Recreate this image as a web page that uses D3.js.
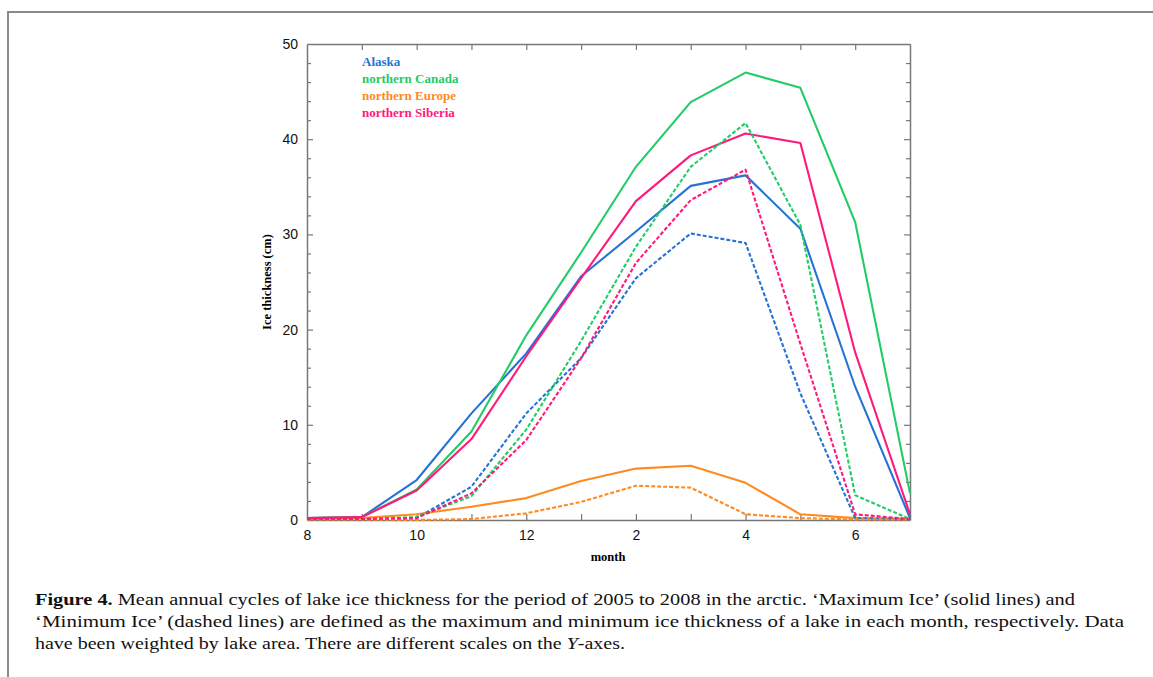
<!DOCTYPE html>
<html><head><meta charset="utf-8">
<script src="https://cdn.jsdelivr.net/npm/d3@7"></script>
<style>
body{margin:0;background:#fff;}
svg{display:block;}
</style></head>
<body>
<svg id="chart" width="1153" height="677"></svg>
<script>
const monthLabels = ["8","9","10","11","12","1","2","3","4","5","6","7"];
const yTicks = [0,10,20,30,40,50];
const regions = ["Alaska","northern Canada","northern Europe","northern Siberia"];
const colors = ["#2473d6","#22cc66","#ff8a22","#ff1a7a"];

const alaskaMax  = [0.2, 0.3, 4.2, 11.2, 17.5, 25.6, 30.3, 35.1, 36.2, 30.6, 14.0, 0.2];
const alaskaMin  = [0.1, 0.1, 0.2, 3.5, 11.2, 17.0, 25.4, 30.1, 29.1, 13.3, 0.2, 0.1];
const canadaMax  = [0.2, 0.3, 3.2, 9.3, 19.4, 28.1, 37.1, 43.9, 47.0, 45.4, 31.3, 2.8];
const canadaMin  = [0.1, 0.1, 0.3, 2.5, 9.5, 18.8, 28.7, 37.1, 41.7, 31.0, 2.6, 0.1];
const europeMax  = [0.1, 0.2, 0.6, 1.4, 2.3, 4.1, 5.4, 5.7, 3.9, 0.6, 0.2, 0.1];
const europeMin  = [0.05, 0.05, 0.0, 0.1, 0.7, 1.9, 3.6, 3.4, 0.6, 0.2, 0.05, 0.05];
const siberiaMax = [0.2, 0.3, 3.1, 8.5, 17.2, 25.4, 33.5, 38.3, 40.6, 39.6, 17.6, 0.6];
const siberiaMin = [0.1, 0.1, 0.2, 2.8, 8.4, 17.0, 27.0, 33.6, 36.8, 18.5, 0.6, 0.1];

const captionLines = [
  {bold:"Figure 4.", rest:" Mean annual cycles of lake ice thickness for the period of 2005 to 2008 in the arctic. \u2018Maximum Ice\u2019 (solid lines) and"},
  {bold:"", rest:"\u2018Minimum Ice\u2019 (dashed lines) are defined as the maximum and minimum ice thickness of a lake in each month, respectively. Data"},
  {bold:"", rest:"have been weighted by lake area. There are different scales on the ", ital:"Y", rest2:"-axes."}
];

const series = [
  {values: alaskaMax, c:0, dash:false},
  {values: canadaMax, c:1, dash:false},
  {values: europeMax, c:2, dash:false},
  {values: siberiaMax, c:3, dash:false},
  {values: alaskaMin, c:0, dash:true},
  {values: canadaMin, c:1, dash:true},
  {values: europeMin, c:2, dash:true},
  {values: siberiaMin, c:3, dash:true}
];

const svg = d3.select("#chart");
const L = 307, R = 910, T = 44, B = 520;
const x = d3.scaleLinear().domain([0, monthLabels.length-1]).range([L, R]);
const y = d3.scaleLinear().domain([0, 50]).range([B, T]);

// frame
svg.append("path").attr("d","M8,677 L8,12 L1153,12").attr("fill","none").attr("stroke","#8a8a8a").attr("stroke-width",2);

const axisColor = "#777";
const idx = d3.range(monthLabels.length);
const gx = svg.append("g").attr("transform",`translate(0,${B})`)
  .call(d3.axisBottom(x).tickValues(idx).tickSizeInner(-6).tickSizeOuter(0).tickPadding(10)
    .tickFormat(i => i % 2 === 0 ? monthLabels[i] : ""));
const gxt = svg.append("g").attr("transform",`translate(0,${T})`)
  .call(d3.axisTop(x).tickValues(idx).tickSizeInner(-6).tickSizeOuter(0).tickFormat(""));
const minor = d3.range(0, 51, 2);
const gy = svg.append("g").attr("transform",`translate(${L},0)`)
  .call(d3.axisLeft(y).tickValues(minor).tickSizeInner(-4).tickSizeOuter(0).tickPadding(9)
    .tickFormat(v => yTicks.includes(v) ? v : ""));
gy.selectAll(".tick").filter(v => yTicks.includes(v)).select("line").attr("x2", 6);
const gyr = svg.append("g").attr("transform",`translate(${R},0)`)
  .call(d3.axisRight(y).tickValues(minor).tickSizeInner(-4).tickSizeOuter(0).tickFormat(""));
gyr.selectAll(".tick").filter(v => yTicks.includes(v)).select("line").attr("x2", -6);
[gx,gxt,gy,gyr].forEach(g => {
  g.select(".domain").attr("stroke", axisColor).attr("stroke-width", 1.5);
  g.selectAll(".tick line").attr("stroke", axisColor).attr("stroke-width", 1.2);
  g.selectAll(".tick text").attr("fill","#111").style("font-family","'Liberation Sans', Arial, sans-serif").style("font-size","14px");
});
gx.selectAll(".tick line").filter(i => i===0 || i===idx.length-1).remove();
gxt.selectAll(".tick line").filter(i => i===0 || i===idx.length-1).remove();
gy.selectAll(".tick line").filter(v => v===0 || v===50).remove();
gyr.selectAll(".tick line").filter(v => v===0 || v===50).remove();

// lines
const line = d3.line().x((d,i) => x(i)).y(d => y(d));
series.forEach(s => {
  svg.append("path").datum(s.values)
    .attr("d", line).attr("fill","none")
    .attr("stroke", colors[s.c]).attr("stroke-width", 2.1)
    .attr("stroke-dasharray", s.dash ? "4,2" : null)
    .attr("stroke-linejoin","round");
});

// legend
const lg = svg.append("g");
regions.forEach((r,i) => {
  lg.append("text").attr("x", 362).attr("y", 66 + i*17)
    .attr("fill", colors[i]).style("font-family","'Liberation Serif', 'Times New Roman', serif")
    .style("font-weight","bold").style("font-size","13px").text(r);
});

// axis labels
svg.append("text").attr("x", 608).attr("y", 561).attr("text-anchor","middle")
  .style("font-family","'Liberation Serif', serif").style("font-weight","bold").style("font-size","12.5px").text("month");
svg.append("text").attr("transform","translate(271,282) rotate(-90)").attr("text-anchor","middle")
  .style("font-family","'Liberation Serif', serif").style("font-weight","bold").style("font-size","12.5px").text("Ice thickness (cm)");

// caption
const widths = [1040, 1089, 590];
captionLines.forEach((ln,i) => {
  const t = svg.append("text").attr("x", 35).attr("y", 605 + i*22)
    .attr("textLength", widths[i]).attr("lengthAdjust","spacingAndGlyphs")
    .style("font-family","'Liberation Serif', 'Times New Roman', serif").style("font-size","17.5px").attr("fill","#111");
  if (ln.bold) t.append("tspan").style("font-weight","bold").text(ln.bold);
  t.append("tspan").text(ln.rest);
  if (ln.ital) { t.append("tspan").style("font-style","italic").text(ln.ital); t.append("tspan").text(ln.rest2); }
});
</script>
</body></html>
